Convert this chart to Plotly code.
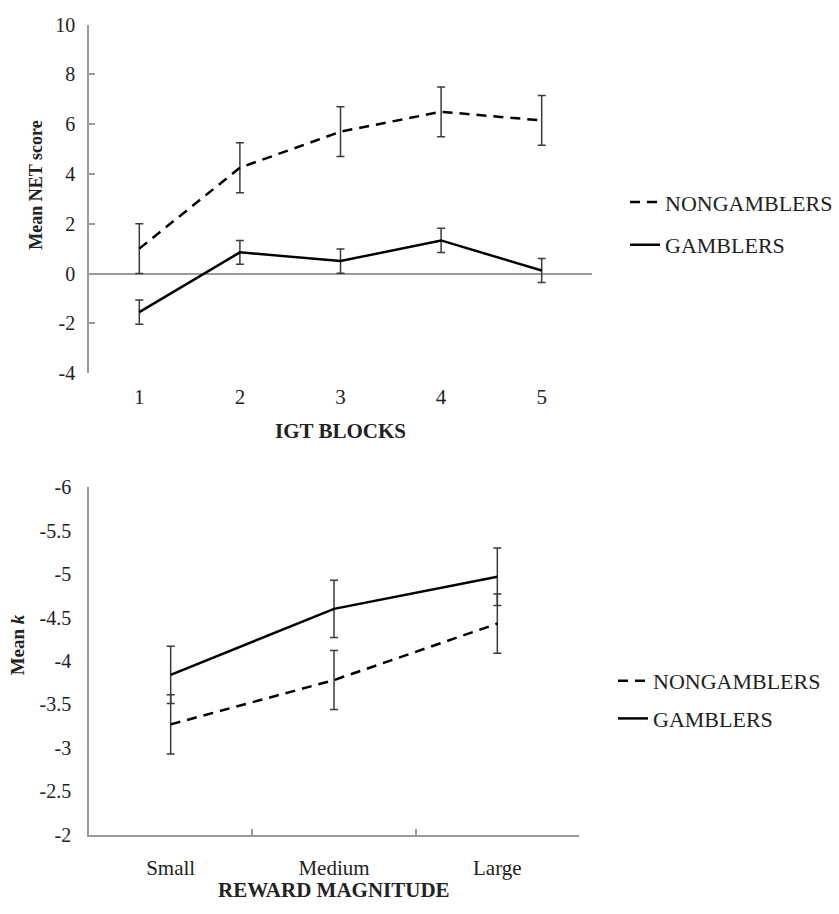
import plotly.graph_objects as go

# ---- Data: top panel (IGT) ----
igt_blocks = [1, 2, 3, 4, 5]
igt_tick_labels = ["1", "2", "3", "4", "5"]
igt_nongamblers = [1.0, 4.25, 5.7, 6.5, 6.15]
igt_nongamblers_err = [1.0, 1.0, 1.0, 1.0, 1.0]
igt_gamblers = [-1.55, 0.85, 0.5, 1.33, 0.12]
igt_gamblers_err = [0.49, 0.48, 0.49, 0.49, 0.48]
igt_y_ticks = [-4, -2, 0, 2, 4, 6, 8, 10]
igt_y_labels = ["-4", "-2", "0", "2", "4", "6", "8", "10"]

# ---- Data: bottom panel (delay discounting) ----
reward_categories = ["Small", "Medium", "Large"]
k_nongamblers = [-3.27, -3.78, -4.43]
k_nongamblers_err = [0.34, 0.34, 0.34]
k_gamblers = [-3.84, -4.60, -4.97]
k_gamblers_err = [0.33, 0.33, 0.33]
k_y_ticks = [-6, -5.5, -5, -4.5, -4, -3.5, -3, -2.5, -2]
k_y_labels = ["-6", "-5.5", "-5", "-4.5", "-4", "-3.5", "-3", "-2.5", "-2"]

W, H = 839, 914
FONT = "Liberation Serif, Times New Roman, DejaVu Serif, serif"
TXT = "#222222"
AX = "#9a9a9a"
ERR = "#3a3a3a"
DASH = "10px,7px"


def px_x(p):
    return p / W


def px_y(p):
    return 1 - p / H


fig = go.Figure()

# top panel traces
fig.add_trace(go.Scatter(
    x=igt_blocks, y=igt_nongamblers, mode="lines", name="NONGAMBLERS",
    line=dict(color="black", width=2.5, dash=DASH),
    error_y=dict(type="data", array=igt_nongamblers_err, color=ERR, thickness=1.5, width=4),
    xaxis="x", yaxis="y", legend="legend", legendgroup="a"))
fig.add_trace(go.Scatter(
    x=igt_blocks, y=igt_gamblers, mode="lines", name="GAMBLERS",
    line=dict(color="black", width=2.5),
    error_y=dict(type="data", array=igt_gamblers_err, color=ERR, thickness=1.5, width=4),
    xaxis="x", yaxis="y", legend="legend", legendgroup="b"))

# bottom panel traces
fig.add_trace(go.Scatter(
    x=reward_categories, y=k_nongamblers, mode="lines", name="NONGAMBLERS",
    line=dict(color="black", width=2.5, dash=DASH),
    error_y=dict(type="data", array=k_nongamblers_err, color=ERR, thickness=1.5, width=4),
    xaxis="x2", yaxis="y2", legend="legend2", legendgroup="c"))
fig.add_trace(go.Scatter(
    x=reward_categories, y=k_gamblers, mode="lines", name="GAMBLERS",
    line=dict(color="black", width=2.5),
    error_y=dict(type="data", array=k_gamblers_err, color=ERR, thickness=1.5, width=4),
    xaxis="x2", yaxis="y2", legend="legend2", legendgroup="d"))

fig.update_layout(
    width=W, height=H,
    margin=dict(l=0, r=0, t=0, b=0),
    paper_bgcolor="white", plot_bgcolor="white",
    font=dict(family=FONT, color=TXT, size=20),
    xaxis=dict(
        domain=[px_x(89), px_x(592)], anchor="y",
        range=[0.5, 5.5], tickvals=igt_blocks, ticktext=igt_tick_labels,
        showline=False, showgrid=False, zeroline=False, ticks="",
        tickfont=dict(family=FONT, size=21), ticklabelstandoff=9,
    ),
    yaxis=dict(
        domain=[px_y(371), px_y(14)], anchor="x",
        range=[-4, 10], tickvals=igt_y_ticks, ticktext=igt_y_labels,
        showline=True, linecolor=AX, linewidth=1.5,
        ticks="inside", ticklen=6, tickcolor=AX, tickwidth=1.5,
        showgrid=False, zeroline=True, zerolinecolor=AX, zerolinewidth=1.5,
        tickfont=dict(family=FONT, size=20), ticklabelstandoff=8,
    ),
    xaxis2=dict(
        domain=[px_x(89), px_x(579)], anchor="y2",
        type="category", range=[-0.5, 2.5], tickson="boundaries",
        showline=True, linecolor=AX, linewidth=1.5,
        ticks="inside", ticklen=6, tickcolor=AX, tickwidth=1.5,
        showgrid=False, zeroline=False,
        tickfont=dict(family=FONT, size=21), ticklabelstandoff=13,
    ),
    yaxis2=dict(
        domain=[px_y(844), px_y(488)], anchor="x2",
        range=[-2, -6], tickvals=k_y_ticks, ticktext=k_y_labels,
        showline=True, linecolor=AX, linewidth=1.5, ticks="",
        showgrid=False, zeroline=False,
        tickfont=dict(family=FONT, size=20), ticklabelstandoff=12,
    ),
    legend=dict(
        x=px_x(625), y=px_y(218), xanchor="left", yanchor="middle",
        font=dict(family=FONT, size=22, color=TXT), bgcolor="rgba(0,0,0,0)",
        tracegroupgap=11, itemwidth=30,
    ),
    legend2=dict(
        x=px_x(613), y=px_y(706), xanchor="left", yanchor="middle",
        font=dict(family=FONT, size=22, color=TXT), bgcolor="rgba(0,0,0,0)",
        tracegroupgap=6, itemwidth=30,
    ),
    annotations=[
        dict(text="<b>Mean NET score</b>", x=px_x(36), y=px_y(179), xref="paper", yref="paper",
             textangle=-90, showarrow=False, font=dict(family=FONT, size=18, color=TXT),
             xanchor="center", yanchor="middle"),
        dict(text="<b>IGT BLOCKS</b>", x=px_x(340), y=px_y(430), xref="paper", yref="paper",
             showarrow=False, font=dict(family=FONT, size=21, color=TXT),
             xanchor="center", yanchor="middle"),
        dict(text="<b>Mean <i>k</i></b>", x=px_x(17), y=px_y(650), xref="paper", yref="paper",
             textangle=-90, showarrow=False, font=dict(family=FONT, size=19, color=TXT),
             xanchor="center", yanchor="middle"),
        dict(text="<b>REWARD MAGNITUDE</b>", x=px_x(334), y=0, xref="paper", yref="paper",
             showarrow=False, font=dict(family=FONT, size=21, color=TXT),
             xanchor="center", yanchor="bottom", borderpad=0),
    ],
)

fig.write_html("out.html", config={"displayModeBar": False},
               post_script="document.body.style.margin='0';")
